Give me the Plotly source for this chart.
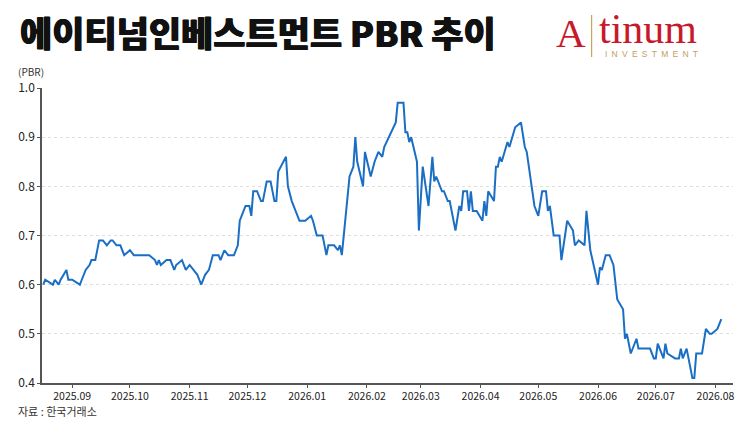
import plotly.graph_objects as go

# ---- data ----
dates = [
    "2025-08-17", "2025-08-18", "2025-08-22", "2025-08-23", "2025-08-25", "2025-08-26", "2025-08-29", "2025-08-30",
    "2025-09-01", "2025-09-05", "2025-09-06", "2025-09-08", "2025-09-10", "2025-09-11", "2025-09-13", "2025-09-15",
    "2025-09-17", "2025-09-19", "2025-09-21", "2025-09-22", "2025-09-24", "2025-09-26", "2025-09-28",
    "2025-10-01", "2025-10-03", "2025-10-11", "2025-10-14", "2025-10-15", "2025-10-16", "2025-10-17", "2025-10-20",
    "2025-10-22", "2025-10-24", "2025-10-25", "2025-10-28", "2025-10-30",
    "2025-11-01", "2025-11-03", "2025-11-05", "2025-11-06", "2025-11-07", "2025-11-09", "2025-11-11", "2025-11-13",
    "2025-11-16", "2025-11-17", "2025-11-19", "2025-11-21", "2025-11-24", "2025-11-25", "2025-11-26", "2025-11-27",
    "2025-11-30",
    "2025-12-02", "2025-12-03", "2025-12-04", "2025-12-06", "2025-12-08", "2025-12-09", "2025-12-11", "2025-12-13",
    "2025-12-15", "2025-12-16", "2025-12-17", "2025-12-21", "2025-12-22", "2025-12-24", "2025-12-28", "2025-12-31",
    "2026-01-03", "2026-01-04", "2026-01-06", "2026-01-09", "2026-01-11", "2026-01-12", "2026-01-15", "2026-01-17",
    "2026-01-18", "2026-01-19", "2026-01-21", "2026-01-23", "2026-01-25", "2026-01-26", "2026-01-27", "2026-01-30",
    "2026-01-31",
    "2026-02-03", "2026-02-05", "2026-02-07", "2026-02-09", "2026-02-10", "2026-02-16", "2026-02-17", "2026-02-20",
    "2026-02-21", "2026-02-22", "2026-02-23", "2026-02-24", "2026-02-27", "2026-02-28",
    "2026-03-02", "2026-03-05", "2026-03-07", "2026-03-08", "2026-03-09", "2026-03-12", "2026-03-13", "2026-03-15",
    "2026-03-16", "2026-03-19", "2026-03-21", "2026-03-22", "2026-03-23", "2026-03-25", "2026-03-26", "2026-03-27",
    "2026-03-28", "2026-03-30",
    "2026-04-02", "2026-04-03", "2026-04-04", "2026-04-05", "2026-04-08", "2026-04-09", "2026-04-10", "2026-04-11",
    "2026-04-12", "2026-04-15", "2026-04-16", "2026-04-19", "2026-04-22", "2026-04-24", "2026-04-25", "2026-04-29",
    "2026-04-30",
    "2026-05-01", "2026-05-03", "2026-05-05", "2026-05-06", "2026-05-07", "2026-05-09", "2026-05-12", "2026-05-13",
    "2026-05-16", "2026-05-19", "2026-05-20", "2026-05-22", "2026-05-25", "2026-05-26", "2026-05-28",
    "2026-06-01", "2026-06-02", "2026-06-03", "2026-06-05", "2026-06-07", "2026-06-09", "2026-06-11", "2026-06-14",
    "2026-06-15", "2026-06-16", "2026-06-18", "2026-06-21", "2026-06-22", "2026-06-28", "2026-06-30",
    "2026-07-01", "2026-07-02", "2026-07-03", "2026-07-05", "2026-07-06", "2026-07-07", "2026-07-11", "2026-07-13",
    "2026-07-14", "2026-07-15", "2026-07-17", "2026-07-19", "2026-07-20", "2026-07-21", "2026-07-22", "2026-07-25",
    "2026-07-27", "2026-07-29", "2026-07-30",
    "2026-08-02", "2026-08-04",
]
pbr = [
    0.60, 0.61, 0.60, 0.61, 0.60, 0.61, 0.63, 0.61,
    0.61, 0.60, 0.61, 0.63, 0.64, 0.65, 0.65, 0.69,
    0.69, 0.68, 0.69, 0.69, 0.68, 0.68, 0.66,
    0.67, 0.66, 0.66, 0.65, 0.64, 0.65, 0.64, 0.65,
    0.65, 0.63, 0.64, 0.65, 0.63,
    0.64, 0.63, 0.62, 0.61, 0.60, 0.62, 0.63, 0.66,
    0.66, 0.65, 0.67, 0.66, 0.66, 0.67, 0.68, 0.73,
    0.76,
    0.76, 0.74, 0.79, 0.79, 0.77, 0.77, 0.81, 0.81,
    0.77, 0.77, 0.83, 0.86, 0.80, 0.77, 0.73, 0.73,
    0.74, 0.73, 0.70, 0.70, 0.66, 0.68, 0.68, 0.67,
    0.68, 0.66, 0.74, 0.82, 0.84, 0.90, 0.85, 0.80,
    0.87,
    0.82, 0.85, 0.87, 0.86, 0.88, 0.93, 0.97, 0.97,
    0.91, 0.91, 0.89, 0.90, 0.85, 0.71,
    0.84, 0.76, 0.86, 0.81, 0.82, 0.79, 0.79, 0.77,
    0.77, 0.71, 0.76, 0.75, 0.79, 0.79, 0.75, 0.79,
    0.75, 0.75,
    0.73, 0.77, 0.74, 0.79, 0.77, 0.84, 0.84, 0.86,
    0.85, 0.89, 0.88, 0.92, 0.93, 0.88, 0.87, 0.76,
    0.75,
    0.74, 0.79, 0.79, 0.75, 0.76, 0.70, 0.70, 0.65,
    0.73, 0.71, 0.68, 0.69, 0.68, 0.75, 0.67,
    0.60, 0.635, 0.63, 0.66, 0.66, 0.64, 0.57, 0.55,
    0.49, 0.50, 0.46, 0.49, 0.47, 0.47, 0.45,
    0.45, 0.48, 0.47, 0.45, 0.48, 0.46, 0.45, 0.45,
    0.47, 0.45, 0.47, 0.43, 0.41, 0.41, 0.46, 0.46,
    0.51, 0.50, 0.50,
    0.51, 0.53,
]
assert len(dates) == len(pbr), (len(dates), len(pbr))

y_ticks = [0.4, 0.5, 0.6, 0.7, 0.8, 0.9, 1.0]
y_tick_text = ["0.4", "0.5", "0.6", "0.7", "0.8", "0.9", "1.0"]

title_text = "에이티넘인베스트먼트 PBR 추이"
unit_text = "(PBR)"
source_text = "자료 : 한국거래소"

# ---- layout geometry (pixels) ----
W, H = 755, 425
L, R, T, B = 41.5, 733.0, 88.0, 383.3
FONT = "Noto Sans CJK KR"


def px(x):
    return (x - L) / (R - L)


def py(y):
    return (B - y) / (B - T)


fig = go.Figure()
fig.add_trace(go.Scatter(
    x=dates, y=pbr, mode="lines",
    line=dict(color="#1a6fc4", width=2),
    hoverinfo="skip", showlegend=False,
))

fig.update_layout(
    width=W, height=H,
    margin=dict(l=L, r=W - R, t=T, b=H - B, pad=0),
    paper_bgcolor="white", plot_bgcolor="white",
    font=dict(family=FONT, color="#222"),
    showlegend=False,
)

fig.update_xaxes(
    type="date",
    range=["2025-08-16 08:00", "2026-08-10 02:00"],
    tick0="2025-09-01", dtick="M1", tickformat="%Y.%m",
    showgrid=False, zeroline=False,
    showline=True, linecolor="#555", linewidth=1.5,
    ticks="outside", ticklen=3, tickcolor="#555", tickwidth=1,
    tickfont=dict(family=FONT, size=10.5, color="#222"),
)
fig.update_yaxes(
    range=[0.4, 1.0],
    tickvals=y_ticks, ticktext=y_tick_text,
    showgrid=True, gridcolor="#dedede", gridwidth=1, griddash="3px,3px",
    zeroline=False,
    showline=True, linecolor="#555", linewidth=1.5,
    ticks="outside", ticklen=3, tickcolor="#555", tickwidth=1,
    tickfont=dict(family=FONT, size=12, color="#222"),
)

ann = []
ann.append(dict(text=title_text, x=px(17), y=py(31), xanchor="left", yanchor="middle",
                font=dict(family=FONT, size=35, color="#111", weight=900,
                          shadow="0.6px 0 0 #111, -0.4px 0 0 #111"),
                showarrow=False))
ann.append(dict(text=unit_text, x=px(15), y=py(71), xanchor="left", yanchor="middle",
                font=dict(family=FONT, size=10, color="#333"), showarrow=False))
ann.append(dict(text=source_text, x=px(15), y=py(411), xanchor="left", yanchor="middle",
                font=dict(family=FONT, size=11, color="#333"), showarrow=False))
# logo
ann.append(dict(text="A", x=px(571), y=py(33), xanchor="center", yanchor="middle",
                font=dict(family="Liberation Serif", size=41, color="#c8192b"), showarrow=False))
ann.append(dict(text="tinum", x=px(597), y=py(29), xanchor="left", yanchor="middle",
                font=dict(family="Liberation Serif", size=42, color="#c8192b"), showarrow=False))
ann.append(dict(text="\u2002".join("INVESTMENT"), x=px(651), y=py(53.5), xanchor="center", yanchor="middle",
                font=dict(family="Liberation Sans", size=8.5, color="#c2a060"), showarrow=False))
for a in ann:
    a.update(xref="paper", yref="paper")
fig.update_layout(annotations=ann)

fig.add_shape(type="line", xref="paper", yref="paper",
              x0=px(591.5), x1=px(591.5), y0=py(15), y1=py(57),
              line=dict(color="#c9a45c", width=1.2))

fig.write_html("out.html", config={"displayModeBar": False},
               post_script="document.body.style.margin='0';")
